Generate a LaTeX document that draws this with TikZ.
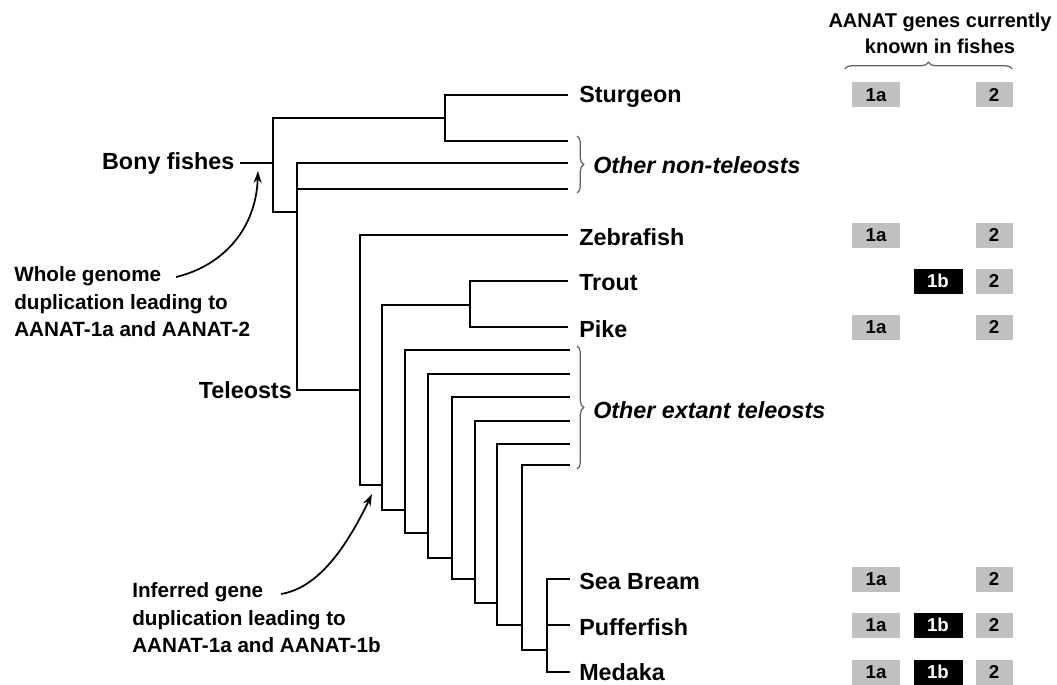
\documentclass[tikz,border=0pt]{standalone}
\usepackage{fontspec}
\setmainfont{Liberation Sans}
\usetikzlibrary{arrows.meta, decorations.pathreplacing, positioning}
\definecolor{genegray}{RGB}{192,192,192}
\definecolor{bracegray}{RGB}{95,95,95}

\tikzset{
  branch/.style={line width=1.2pt},
  taxon/.style={anchor=west, inner sep=0pt, font=\fontsize{17.5}{20}\selectfont\bfseries},
  others/.style={anchor=west, inner sep=0pt, font=\fontsize{17.5}{20}\selectfont\bfseries\itshape},
  clade/.style={anchor=east, inner sep=0pt, font=\fontsize{17.5}{20}\selectfont\bfseries},
  note/.style={anchor=north west, align=left, inner sep=0pt, font=\fontsize{15.5}{20.5}\selectfont\bfseries},
  gbrace/.style={bracegray, line width=0.9pt, decorate, decoration={brace, amplitude=5pt}},
  duparrow/.style={line width=1.3pt, -{Stealth[length=9pt, width=6pt]}},
  genebox/.style={fill=genegray, minimum height=18.75pt, inner sep=0pt, font=\fontsize{14}{16}\selectfont\bfseries},
  onea/.style={genebox, minimum width=36pt},
  oneb/.style={genebox, fill=black, text=white, minimum width=36.75pt},
  two/.style={genebox, minimum width=27.75pt}
}

\begin{document}
\begin{tikzpicture}[x=0.75pt, y=-0.75pt]
\useasboundingbox (0,0) rectangle (1057,685);

% internal nodes of the tree
\coordinate (root) at (273,163);
\coordinate (acip) at (445,118);
\coordinate (neop) at (297,212);
\coordinate (tele) at (360,390);
\coordinate (eute) at (382,485);
\coordinate (salmo) at (470,305);
\coordinate (c1) at (405,510);
\coordinate (c2) at (428,533);
\coordinate (c3) at (452,558);
\coordinate (c4) at (475,579);
\coordinate (c5) at (497,603);
\coordinate (c6) at (522,625);
\coordinate (perco) at (547,650);

% tips
\coordinate (tStur) at (568,95);
\coordinate (tNt1) at (568,141);
\coordinate (tNt2) at (568,163);
\coordinate (tNt3) at (568,189);
\coordinate (tZeb) at (568,235);
\coordinate (tTrout) at (568,281);
\coordinate (tPike) at (568,327);
\coordinate (tE1) at (570,350);
\coordinate (tE2) at (570,374);
\coordinate (tE3) at (570,397);
\coordinate (tE4) at (570,421);
\coordinate (tE5) at (570,444);
\coordinate (tE6) at (570,465);
\coordinate (tSea) at (570,579);
\coordinate (tPuf) at (570,625);
\coordinate (tMed) at (570,672);

% labels
\node[clade, inner xsep=4pt] (bony) at (240,163) {Bony fishes};
\node[clade] (teleosts) at (292,390) {Teleosts};
\node[taxon] (stur) at (579,97) {Sturgeon};
\node[taxon] (zeb) at (579,237) {Zebrafish};
\node[taxon] (trout) at (579,283) {Trout};
\node[taxon] (pike) at (579,329) {Pike};
\node[taxon] (sea) at (579,581) {Sea Bream};
\node[taxon] (puf) at (579,627) {Pufferfish};
\node[taxon] (med) at (579,672) {Medaka};
\node[others] (nontel) at (593,165) {Other non-teleosts};
\node[others] (extant) at (593,410) {Other extant teleosts};

% branches
\draw[branch] (bony) -- (root);
\draw[branch] (acip) -| (root) |- (neop);
\draw[branch] (tStur) -| (acip) |- (tNt1);
\draw[branch] (tNt2) -| (neop) |- (tele);
\draw[branch] (tNt3) -- (tNt3 -| neop);
\draw[branch] (tZeb) -| (tele) |- (eute);
\draw[branch] (salmo) -| (eute) |- (c1);
\draw[branch] (tTrout) -| (salmo) |- (tPike);
\draw[branch] (tE1) -| (c1) |- (c2);
\draw[branch] (tE2) -| (c2) |- (c3);
\draw[branch] (tE3) -| (c3) |- (c4);
\draw[branch] (tE4) -| (c4) |- (c5);
\draw[branch] (tE5) -| (c5) |- (c6);
\draw[branch] (tE6) -| (c6) |- (perco);
\draw[branch] (tSea) -| (perco) |- (tMed);
\draw[branch] (tPuf) -- (tPuf -| perco);

% braces
\draw[gbrace] (577,136) -- (577,193);
\draw[gbrace] (577,346) -- (577,469);
\draw[gbrace] (845,69) -- (1012,69);

% duplication notes
\node[note] (wgd) at (14,266.5) {Whole genome\\duplication leading to\\AANAT-1a and AANAT-2};
\node[note] (igd) at (132,582.5) {Inferred gene\\duplication leading to\\AANAT-1a and AANAT-1b};
\coordinate (wgdfrom) at (176,277);
\coordinate (wgdto) at (258,171);
\coordinate (igdfrom) at (281,594);
\coordinate (igdto) at (372,494);
\draw[duparrow] (wgdfrom) .. controls (222,266) and (256,230) .. (wgdto);
\draw[duparrow] (igdfrom) .. controls (318,588) and (346,548) .. (igdto);

% gene table
\node[anchor=north, align=center, inner sep=0pt, font=\fontsize{15}{19.5}\selectfont\bfseries] (genes) at (940,12.5) {AANAT genes currently\\known in fishes};
\node[onea] (sturA) at (876,95) {1a};
\node[two] (stur2) at (994,95) {2};
\node[onea] (zebA) at (876,235) {1a};
\node[two] (zeb2) at (994,235) {2};
\node[oneb] (troutB) at (938,281) {1b};
\node[two] (trout2) at (994,281) {2};
\node[onea] (pikeA) at (876,327) {1a};
\node[two] (pike2) at (994,327) {2};
\node[onea] (seaA) at (876,579) {1a};
\node[two] (sea2) at (994,579) {2};
\node[onea] (pufA) at (876,625) {1a};
\node[oneb] (pufB) at (938,625) {1b};
\node[two] (puf2) at (994,625) {2};
\node[onea] (medA) at (876,672) {1a};
\node[oneb] (medB) at (938,672) {1b};
\node[two] (med2) at (994,672) {2};
\end{tikzpicture}
\end{document}
